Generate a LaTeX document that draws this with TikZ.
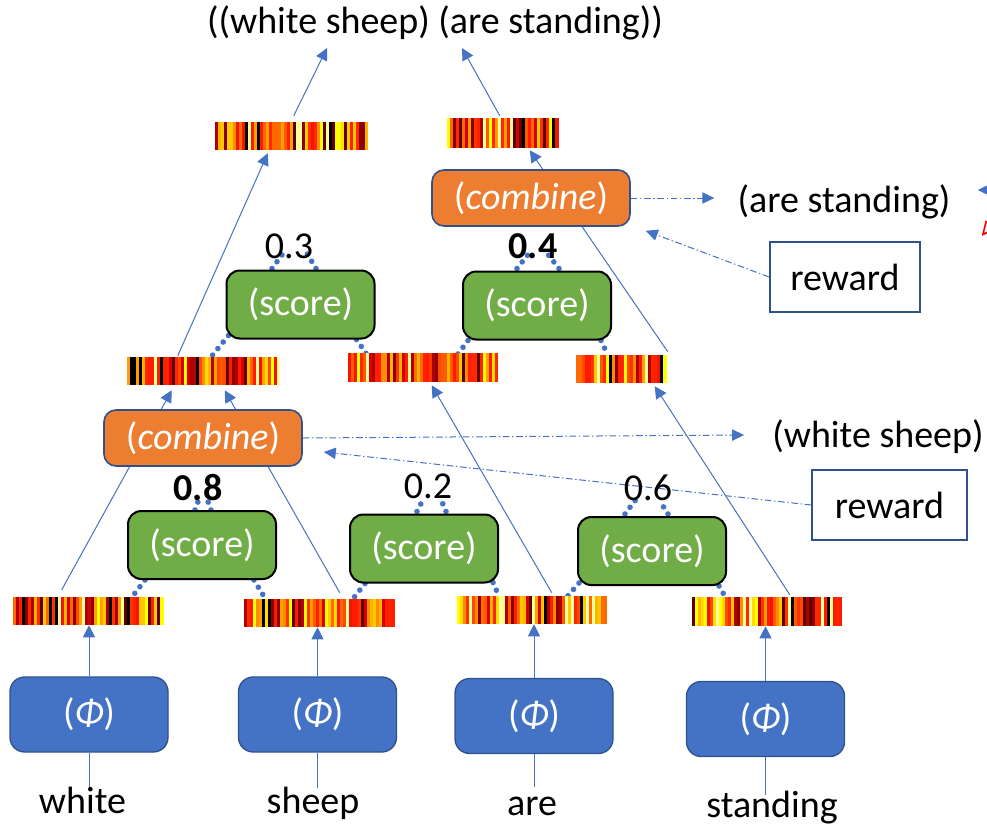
\documentclass[tikz,border=0pt]{standalone}
\usepackage{fontspec}
\setmainfont{Carlito}
\usetikzlibrary{arrows.meta,calc}
\pgfdeclarelayer{bg}
\pgfsetlayers{bg,main}
\definecolor{phiblue}{HTML}{4472C4}
\definecolor{phiedge}{HTML}{2F528F}
\definecolor{sgreen}{HTML}{70AD47}
\definecolor{corange}{HTML}{ED7D31}
\definecolor{lineblue}{HTML}{4472C4}
\definecolor{hc1}{HTML}{000000}
\definecolor{hc2}{HTML}{5A0000}
\definecolor{hc3}{HTML}{8A0000}
\definecolor{hc4}{HTML}{B00000}
\definecolor{hc5}{HTML}{D80000}
\definecolor{hc6}{HTML}{FF1A00}
\definecolor{hc7}{HTML}{FF2600}
\definecolor{hc8}{HTML}{F51400}
\definecolor{hc9}{HTML}{FF3300}
\definecolor{hc10}{HTML}{FF4800}
\definecolor{hc11}{HTML}{FF5A00}
\definecolor{hc12}{HTML}{FF6A00}
\definecolor{hc13}{HTML}{FF8C00}
\definecolor{hc14}{HTML}{FF9F00}
\definecolor{hc15}{HTML}{FFB400}
\definecolor{hc16}{HTML}{FFC800}
\definecolor{hc17}{HTML}{FFDD00}
\definecolor{hc18}{HTML}{FFFF00}
\definecolor{hc19}{HTML}{FFFFA0}
\definecolor{hc20}{HTML}{FF2000}
\newcommand{\msz}{\fontsize{28.5}{34}\selectfont}
\newcommand{\heatbar}[6]{%
  \pgfmathsetseed{#6}%
  \pgfmathtruncatemacro{\hbn}{#4/3}%
  \foreach \hbi in {1,...,\hbn}{%
    \pgfmathrandominteger{\hbc}{1}{20}%
    \fill[hc\hbc] ({#2+(\hbi-1)*3},#3) rectangle ({min(#2+\hbi*3+0.5,#2+#4)},{#3+#5});
  }%
  \node[inner sep=0pt, minimum width={#4*0.75pt}, minimum height={#5*0.75pt}] (#1) at ({#2+#4/2},{#3+#5/2}) {};
}
\begin{document}
\begin{tikzpicture}[x=0.75pt,y=-0.75pt, font=\msz,
  phibox/.style={rectangle, rounded corners=11pt, fill=phiblue, draw=phiedge, line width=1pt, text=white, minimum width=118.5pt, minimum height=56.25pt, inner sep=0pt},
  scorebox/.style={rectangle, rounded corners=10pt, fill=sgreen, draw=black, line width=1.5pt, text=white, minimum width=111pt, minimum height=51pt, inner sep=0pt},
  combbox/.style={rectangle, rounded corners=9pt, fill=corange, draw=phiedge, line width=1.2pt, text=white, minimum width=148.5pt, minimum height=42pt, inner sep=0pt},
  rewbox/.style={rectangle, draw=phiedge, line width=1.5pt, fill=white, minimum width=112.5pt, minimum height=52.5pt, inner sep=0pt},
  txt/.style={anchor=base, inner sep=0pt},
  plain/.style={draw=lineblue, line width=0.75pt},
  conn/.style={draw=lineblue, line width=0.75pt, -{Triangle[length=9pt,width=9pt]}},
  dd/.style={draw=lineblue, line width=0.75pt, dash pattern=on 5pt off 2pt on 1pt off 2pt, -{Triangle[length=9pt,width=8.5pt]}},
  dots/.style={draw=lineblue, line width=4.2pt, line cap=round, dash pattern=on 0pt off 6.3pt},
  reddash/.style={draw=red, line width=1.2pt, dash pattern=on 3pt off 2pt, -{Triangle[open,length=11pt,width=10pt]}}
]
\useasboundingbox (0,0) rectangle (987,825);

% heat bars
\heatbar{bW}{13}{597}{152}{28}{11}
\heatbar{bS}{244}{599}{151}{28}{23}
\heatbar{bA}{457}{596}{150}{28}{37}
\heatbar{bT}{692}{597}{150}{29}{41}
\heatbar{bM1}{127}{357}{153}{28}{53}
\heatbar{bM2}{348}{353}{150}{29}{67}
\heatbar{bM3}{576}{355}{92}{28}{71}
\heatbar{bU1}{215}{122}{153}{28}{83}
\heatbar{bU2}{447}{118}{113}{30}{97}

% boxes
\node[phibox] (pW) at (89,714.5) {(\textit{Φ})};
\node[phibox] (pS) at (317.5,714.5) {(\textit{Φ})};
\node[phibox] (pA) at (534,716) {(\textit{Φ})};
\node[phibox] (pT) at (765.5,719) {(\textit{Φ})};
\node[scorebox] (s1) at (202,545) {(score)};
\node[scorebox] (s2) at (424,548.5) {(score)};
\node[scorebox] (s3) at (652,551) {(score)};
\node[scorebox] (s4) at (300.5,304.5) {(score)};
\node[scorebox] (s5) at (537,305.5) {(score)};
\node[combbox] (c1) at (203,438) {(\textit{combine})};
\node[combbox] (c2) at (531,198) {(\textit{combine})};
\node[rewbox] (r1) at (845,277) {reward};
\node[rewbox, minimum width=116pt] (r2) at (889.5,505) {reward};

% texts
\node[txt] (title) at (435,33) {((white sheep) (are standing))};
\node[txt] (asd) at (844,212) {(are standing)};
\node[txt] (ws) at (878,447) {(white sheep)};
\node[txt] (wW) at (82.5,813) {white};
\node[txt] (wS) at (313,813) {sheep};
\node[txt] (wA) at (532,815) {are};
\node[txt] (wT) at (772,817) {standing};
\node[txt] (n1) at (198,500) {\bfseries 0.8};
\node[txt] (n2) at (428,498) {0.2};
\node[txt] (n3) at (648,500) {0.6};
\node[txt] (n4) at (289,258) {0.3};
\node[txt] (n5) at (533,258) {\bfseries 0.4};

\begin{pgfonlayer}{bg}
% words to phi boxes
\draw[plain] (pW.south) -- ++(0,35);
\draw[plain] (pS.south) -- ++(0,35);
\draw[plain] (pA.south) -- ++(0,33);
\draw[plain] (pT.south) -- ++(0,38);
% phi boxes to bars
\draw[conn] (pW.north) -- (pW.north |- bW.south);
\draw[conn] (pS.north) -- (pS.north |- bS.south);
\draw[conn] (pA.north) -- (pA.north |- bA.south);
\draw[conn] (pT.north) -- (pT.north |- bT.south);
% composition lines
\draw[conn] ($(bW.north west)+(49,-7)$) -- ($(bM1.south west)+(45,5)$);
\draw[conn] ($(bS.north west)+(96,-6)$) -- ($(bM1.south west)+(98,5)$);
\draw[conn] ($(bM1.north west)+(51,-1)$) -- ($(bU1.south west)+(53,3)$);
\draw[conn] ($(bU1.north west)+(79,-6)$) -- ($(title.base)+(-108,15)$);
\draw[conn] ($(bU2.north west)+(53,-2)$) -- ($(title.base)+(27,15)$);
\draw[conn] ($(bA.north west)+(95,-3)$) -- ($(bM2.south west)+(84,3)$);
\draw[conn] ($(bT.north west)+(98,-2)$) -- ($(bM3.south west)+(79,3)$);
\draw[conn] ($(bM3.north west)+(92,-3)$) -- ($(bU2.south west)+(83,2)$);
% dash-dot
\draw[dd] (c1.east) -- ($(ws.base west)+(-28,-12)$);
\draw[dd] (r2.west) -- ($(c1.east)+(21,14)$);
\draw[dd] (c2.east) -- ($(asd.base west)+(-23,-14)$);
\draw[dd] (r1.west) -- ($(c2.south east)+(15,4)$);
\draw[dd] ($(asd.base east)+(70,-22)$) -- ($(asd.base east)+(27,-22)$);
\draw[reddash] ($(asd.base east)+(60,-12)$) -- ($(asd.base east)+(31,24)$);
% dotted score lines
\draw[dots] ($(s1.north)+(-7,0)$) -- ++(5,-14);
\draw[dots] ($(s1.north)+(9,0)$) -- ++(-5,-14);
\draw[dots] ($(s1.south west)+(18,0)$) -- ($(bW.north east)+(-33,0)$);
\draw[dots] ($(s1.south east)+(-23,0)$) -- ($(bS.north west)+(21,-1)$);
\draw[dots] ($(s2.north)+(-7,-2)$) -- ++(6,-12);
\draw[dots] ($(s2.north)+(22,-2)$) -- ++(-5,-12);
\draw[dots] ($(s2.south west)+(16,0)$) -- ($(bS.north east)+(-43,1)$);
\draw[dots] ($(s2.south east)+(-6,-1)$) -- ($(bA.north west)+(42,0)$);
\draw[dots] ($(s3.north)+(-27,-2)$) -- ++(12,-16);
\draw[dots] ($(s3.north)+(16,-2)$) -- ++(-7,-11);
\draw[dots] ($(s3.south west)+(2,-3)$) -- ($(bA.north east)+(-41,2)$);
\draw[dots] ($(s3.south east)+(-8,0)$) -- ($(bT.north west)+(34,1)$);
\draw[dots] ($(s4.north)+(-28.5,-1)$) -- ++(11,-15);
\draw[dots] ($(s4.north)+(15.5,-1)$) -- ++(-9,-15);
\draw[dots] ($(s4.south west)+(3,-4)$) -- ($(bM1.north east)+(-69,0)$);
\draw[dots] ($(s4.south east)+(-19,0)$) -- ($(bM2.north west)+(20,3)$);
\draw[dots] ($(s5.north)+(-20,-2)$) -- ++(11,-14);
\draw[dots] ($(s5.north)+(22,-2)$) -- ++(-11,-14);
\draw[dots] ($(s5.south west)+(6,0)$) -- ($(bM2.north west)+(109,3)$);
\draw[dots] ($(s5.south east)+(-11,0)$) -- ($(bM3.north west)+(32,0)$);
\end{pgfonlayer}
\end{tikzpicture}
\end{document}
